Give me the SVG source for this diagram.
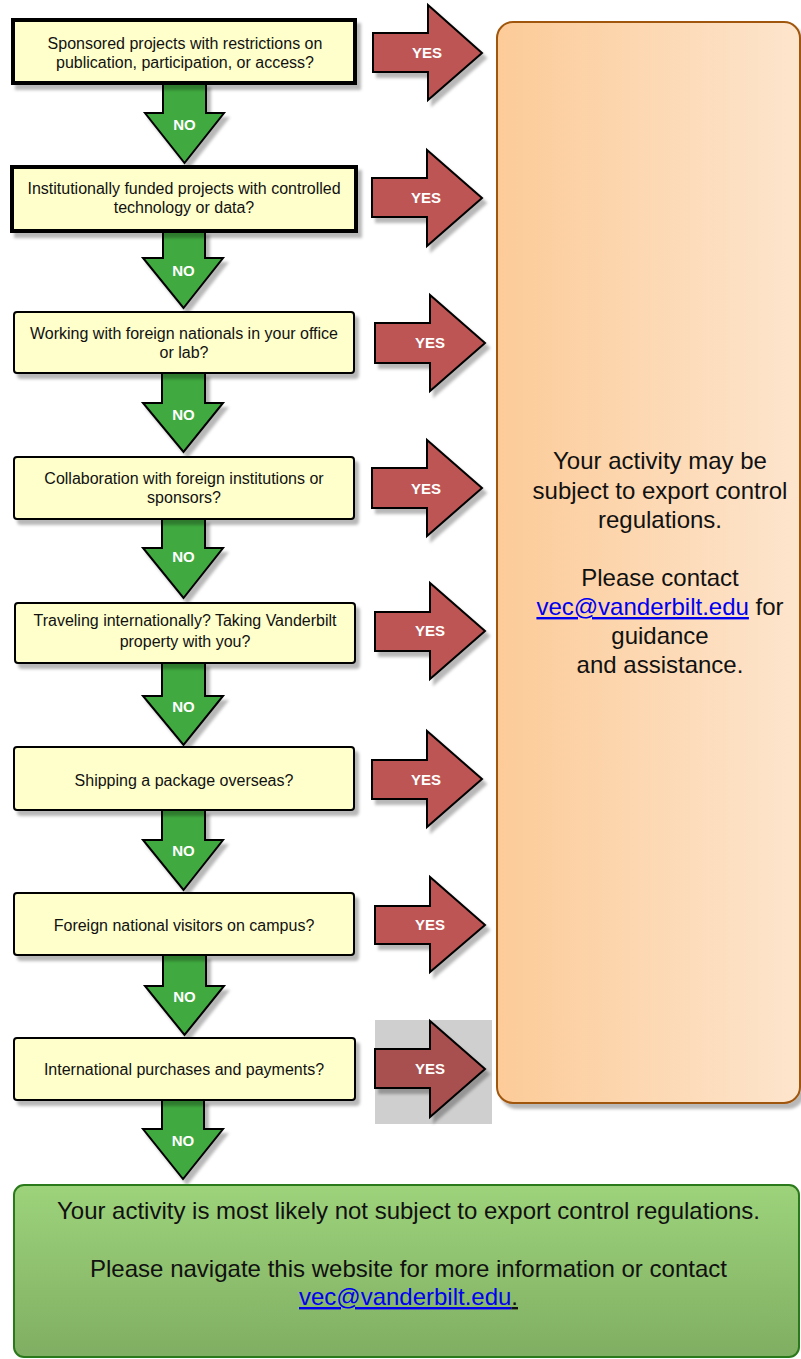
<svg xmlns="http://www.w3.org/2000/svg" width="801" height="1359" viewBox="0 0 801 1359">
<defs>
<filter id="sh" x="-10%" y="-10%" width="130%" height="130%">
<feDropShadow dx="4" dy="5" stdDeviation="1.5" flood-color="#000" flood-opacity="0.28"/>
</filter>
<linearGradient id="og" x1="0" y1="0" x2="1" y2="0">
<stop offset="0" stop-color="#fccb98"/>
<stop offset="1" stop-color="#fde5cd"/>
</linearGradient>
<linearGradient id="gg" x1="0" y1="0" x2="0" y2="1">
<stop offset="0" stop-color="#9dd37b"/>
<stop offset="1" stop-color="#80ae62"/>
</linearGradient>
<style>
.q{fill:#ffffcc;stroke:#000;stroke-width:2;filter:url(#sh)}
.qt{fill:#ffffcc;stroke:#000;stroke-width:4;filter:url(#sh)}
.t{font-family:"Liberation Sans",Arial,sans-serif;font-size:16px;fill:#111;text-anchor:middle}
.no{fill:#3faa3f;stroke:#000;stroke-width:2;stroke-linejoin:miter;filter:url(#sh)}
.yes{fill:#bd5554;stroke:#000;stroke-width:2;stroke-linejoin:miter;filter:url(#sh)}
.lb{font-family:"Liberation Sans",Arial,sans-serif;font-size:15px;font-weight:bold;fill:#fff;text-anchor:middle}
.big{font-family:"Liberation Sans",Arial,sans-serif;font-size:24px;fill:#111;text-anchor:middle}
.lnk{fill:#0000ee;text-decoration:underline}
</style>
</defs>

<g id="connectors">
<rect x="375" y="1020" width="117" height="104" fill="#cfcfcf"/>
<g>
<path class="no" d="M163,83 L206,83 L206,113 L224,113 L184.5,163 L145,113 L163,113 Z"/>
<text class="lb" x="184.5" y="130">NO</text>
<path class="no" d="M163,231 L205,231 L205,258 L223,258 L183.5,308 L143,258 L163,258 Z"/>
<text class="lb" x="183.5" y="276">NO</text>
<path class="no" d="M162,373 L205,373 L205,403 L223,403 L183.5,452 L143,403 L162,403 Z"/>
<text class="lb" x="183.5" y="420">NO</text>
<path class="no" d="M162,519 L205,519 L205,548 L223,548 L183.5,598 L143,548 L162,548 Z"/>
<text class="lb" x="183.5" y="562">NO</text>
<path class="no" d="M162,663 L205,663 L205,696 L223,696 L183.5,745 L143,696 L162,696 Z"/>
<text class="lb" x="183.5" y="712">NO</text>
<path class="no" d="M162,810 L205,810 L205,840 L223,840 L183.5,890 L143,840 L162,840 Z"/>
<text class="lb" x="183.5" y="856">NO</text>
<path class="no" d="M163,955 L206,955 L206,986 L224,986 L184.5,1035 L145,986 L163,986 Z"/>
<text class="lb" x="184.5" y="1002">NO</text>
<path class="no" d="M162,1100 L204,1100 L204,1129 L223,1129 L183,1179 L143,1129 L162,1129 Z"/>
<text class="lb" x="183" y="1146">NO</text>
</g>
<g>
<path class="yes" d="M373,33 L428,33 L428,5 L482,53 L428,100 L428,72 L373,72 Z"/>
<text class="lb" x="427" y="58">YES</text>
<path class="yes" d="M372,178 L427,178 L427,150 L482,198 L427,246 L427,217 L372,217 Z"/>
<text class="lb" x="426" y="203">YES</text>
<path class="yes" d="M375,323 L430,323 L430,295 L485,343 L430,391 L430,363 L375,363 Z"/>
<text class="lb" x="430" y="348">YES</text>
<path class="yes" d="M372,468 L427,468 L427,440 L482,488 L427,536 L427,508 L372,508 Z"/>
<text class="lb" x="426" y="494">YES</text>
<path class="yes" d="M375,612 L430,612 L430,583 L485,631 L430,679 L430,651 L375,651 Z"/>
<text class="lb" x="430" y="636">YES</text>
<path class="yes" d="M372,760 L427,760 L427,731 L482,779 L427,827 L427,799 L372,799 Z"/>
<text class="lb" x="426" y="785">YES</text>
<path class="yes" d="M375,906 L430,906 L430,877 L485,925 L430,972 L430,944 L375,944 Z"/>
<text class="lb" x="430" y="930">YES</text>
<path class="yes" d="M375,1049 L430,1049 L430,1021 L485,1069 L430,1117 L430,1088 L375,1088 Z" style="fill:#a84f4f"/>
<text class="lb" x="430" y="1074">YES</text>
</g>
</g>

<g id="q1">
<rect class="qt" x="13" y="20" width="342" height="63"/>
<text class="t" x="185" y="49">Sponsored projects with restrictions on</text>
<text class="t" x="185" y="68">publication, participation, or access?</text>
</g>
<g id="q2">
<rect class="qt" x="12" y="167" width="344" height="64"/>
<text class="t" x="184" y="194">Institutionally funded projects with controlled</text>
<text class="t" x="184" y="213">technology or data?</text>
</g>
<g id="q3">
<rect class="q" x="14" y="312" width="340" height="61" rx="3"/>
<text class="t" x="184" y="339">Working with foreign nationals in your office</text>
<text class="t" x="184" y="358">or lab?</text>
</g>
<g id="q4">
<rect class="q" x="14" y="457" width="340" height="62" rx="3"/>
<text class="t" x="184" y="484">Collaboration with foreign institutions or</text>
<text class="t" x="184" y="503">sponsors?</text>
</g>
<g id="q5">
<rect class="q" x="15" y="603" width="340" height="60" rx="3"/>
<text class="t" x="185" y="626">Traveling internationally? Taking Vanderbilt</text>
<text class="t" x="185" y="647">property with you?</text>
</g>
<g id="q6">
<rect class="q" x="14" y="747" width="340" height="63" rx="3"/>
<text class="t" x="184" y="786">Shipping a package overseas?</text>
</g>
<g id="q7">
<rect class="q" x="14" y="893" width="340" height="62" rx="3"/>
<text class="t" x="184" y="931">Foreign national visitors on campus?</text>
</g>
<g id="q8">
<rect class="q" x="14" y="1038" width="341" height="62" rx="3"/>
<text class="t" x="184" y="1075">International purchases and payments?</text>
</g>

<g id="result-yes">
<rect x="497" y="22" width="303" height="1081" rx="16" fill="url(#og)" stroke="#a0560c" stroke-width="2" filter="url(#sh)"/>
<text class="big" x="660" y="469">Your activity may be</text>
<text class="big" x="660" y="499">subject to export control</text>
<text class="big" x="660" y="528">regulations.</text>
<text class="big" x="660" y="586">Please contact</text>
<text class="big" x="660" y="615"><tspan class="lnk">vec@vanderbilt.edu</tspan> for</text>
<text class="big" x="660" y="644">guidance</text>
<text class="big" x="660" y="673">and assistance.</text>
</g>

<g id="result-no">
<rect x="14" y="1185" width="785" height="172" rx="10" fill="url(#gg)" stroke="#2a7a1c" stroke-width="2"/>
<text class="big" x="408.5" y="1219" textLength="703" lengthAdjust="spacingAndGlyphs">Your activity is most likely not subject to export control regulations.</text>
<text class="big" x="408.5" y="1277" textLength="637" lengthAdjust="spacingAndGlyphs">Please navigate this website for more information or contact</text>
<text class="big" x="408.5" y="1305" textLength="219" lengthAdjust="spacingAndGlyphs"><tspan class="lnk">vec@vanderbilt.edu</tspan><tspan text-decoration="underline">.</tspan></text>
</g>
</svg>
